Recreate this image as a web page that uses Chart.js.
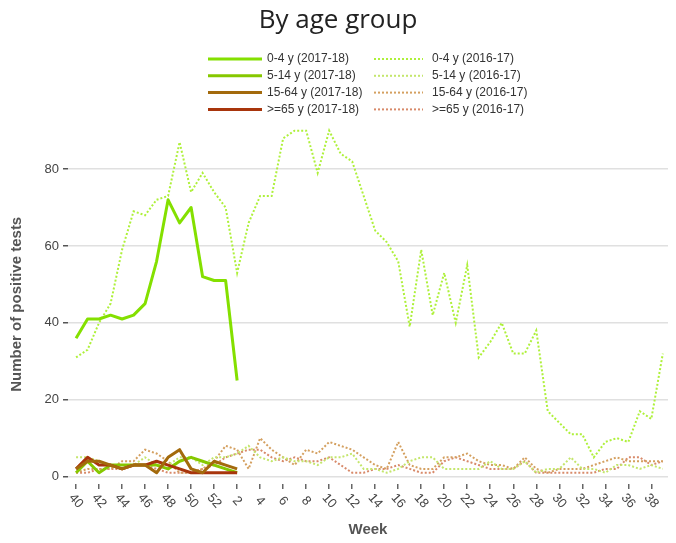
<!DOCTYPE html>
<html>
<head>
<meta charset="utf-8">
<script src="https://cdn.jsdelivr.net/npm/chart.js@4/dist/chart.umd.min.js"></script>
<style>
html,body{margin:0;padding:0;background:#fff;}
#wrap{width:676px;height:543px;}
</style>
</head>
<body>
<div id="wrap"><canvas id="c" width="676" height="543"></canvas></div>
<script>
// ---------- data ----------
const weeks = ['40','41','42','43','44','45','46','47','48','49','50','51','52',
  '1','2','3','4','5','6','7','8','9','10','11','12','13','14','15','16','17','18','19','20',
  '21','22','23','24','25','26','27','28','29','30','31','32','33','34','35','36','37','38','39'];
const yTickValues = [0, 20, 40, 60, 80];

const age0to4_2017 = [36,41,41,42,41,42,45,56,72,66,70,52,51,51,25];
const age5to14_2017 = [1,4,1,3,3,3,3,3,2,4,5,4,3,2,1];
const age15to64_2017 = [2,4,4,3,2,3,3,1,5,7,2,1,4,3,2];
const age65_2017 = [2,5,3,3,2,3,3,4,3,2,1,1,1,1,1];

const age0to4_2016 = [31,33,40,45,59,69,68,72,73,87,74,79,74,70,53,66,73,73,88,90,90,79,90,84,82,73,64,61,56,39,59,42,53,40,55,31,35,40,32,32,38,17,14,11,11,5,9,10,9,17,15,32];
const age5to14_2016 = [5,5,4,3,3,3,5,3,3,5,5,3,5,5,6,8,5,4,5,4,4,3,5,5,6,2,2,1,2,4,5,5,2,2,2,2,4,2,2,4,1,2,2,5,2,2,1,3,3,2,3,2];
const age15to64_2016 = [1,2,2,2,4,4,7,6,4,1,1,2,4,8,7,2,10,7,5,3,7,6,9,8,7,5,3,2,9,3,2,2,5,5,6,4,3,3,2,5,2,1,2,2,2,3,4,5,4,4,4,4];
const age65_2016 = [1,1,2,2,2,3,3,2,1,1,1,2,3,5,6,7,7,5,4,5,4,4,5,3,1,1,2,2,3,2,1,1,4,5,4,3,2,2,2,4,1,1,1,1,1,1,2,2,5,5,3,4];

const seriesLabels = {
  a04s:'0-4 y (2017-18)', a514s:'5-14 y (2017-18)', a1564s:'15-64 y (2017-18)', a65s:'>=65 y (2017-18)',
  a04p:'0-4 y (2016-17)', a514p:'5-14 y (2016-17)', a1564p:'15-64 y (2016-17)', a65p:'>=65 y (2016-17)'
};

// ---------- chart ----------
const FONT = "'Liberation Sans', Arial, sans-serif";
const toXY = arr => arr.map((v, i) => ({x: i, y: v}));

const solid = (label, arr, color) => ({
  label, data: toXY(arr), borderColor: color, backgroundColor: color,
  borderWidth: 3, pointRadius: 0, tension: 0, borderJoinStyle: 'round', fill: false
});
const dotted = (label, arr, color) => ({
  label, data: toXY(arr), borderColor: color, backgroundColor: color,
  borderWidth: 2, borderDash: [2, 2], pointRadius: 0, tension: 0, fill: false
});

const datasets = [
  solid(seriesLabels.a04s, age0to4_2017, '#84e000'),
  solid(seriesLabels.a1564s, age15to64_2017, '#a36a0c'),
  solid(seriesLabels.a65s, age65_2017, '#a8350c'),
  solid(seriesLabels.a514s, age5to14_2017, '#86c800'),
  dotted(seriesLabels.a04p, age0to4_2016, '#aef03a'),
  dotted(seriesLabels.a514p, age5to14_2016, '#c4e66c'),
  dotted(seriesLabels.a1564p, age15to64_2016, '#d4a060'),
  dotted(seriesLabels.a65p, age65_2016, '#d88a6a')
];

const legendColumns = [
  {lineX: 208, lineW: 54, textX: 267, items: [seriesLabels.a04s, seriesLabels.a514s, seriesLabels.a1564s, seriesLabels.a65s]},
  {lineX: 374, lineW: 49, textX: 432, items: [seriesLabels.a04p, seriesLabels.a514p, seriesLabels.a1564p, seriesLabels.a65p]}
];

const customLegend = {
  id: 'customLegend',
  afterDraw(chart) {
    const ctx = chart.ctx;
    ctx.save();
    ctx.font = '12px ' + FONT;
    ctx.textBaseline = 'middle';
    ctx.textAlign = 'left';
    legendColumns.forEach(col => {
      col.items.forEach((lab, r) => {
        const ds = chart.data.datasets.find(d => d.label === lab);
        const y = 59 + r * 16.8;
        ctx.beginPath();
        ctx.strokeStyle = ds.borderColor;
        ctx.lineWidth = ds.borderWidth;
        ctx.setLineDash(ds.borderDash || []);
        ctx.moveTo(col.lineX, y);
        ctx.lineTo(col.lineX + col.lineW, y);
        ctx.stroke();
        ctx.setLineDash([]);
        ctx.fillStyle = '#333';
        ctx.fillText(lab, col.textX, y);
      });
    });
    ctx.restore();
  }
};

const xLabels = {
  id: 'xLabels',
  afterDraw(chart) {
    const xs = chart.scales.x;
    const ctx = chart.ctx;
    ctx.save();
    ctx.font = '13px ' + FONT;
    ctx.fillStyle = '#444';
    ctx.textAlign = 'center';
    ctx.textBaseline = 'middle';
    xs.ticks.forEach(t => {
      const px = xs.getPixelForValue(t.value);
      ctx.save();
      ctx.translate(px, 501);
      ctx.rotate(Math.PI * 0.27);
      ctx.fillText(weeks[t.value], 0, 0);
      ctx.restore();
    });
    ctx.restore();
  }
};

new Chart(document.getElementById('c'), {
  type: 'line',
  data: {datasets},
  plugins: [customLegend, xLabels],
  options: {
    responsive: false,
    animation: false,
    events: [],
    layout: {padding: {left: 8, right: 8, top: 0, bottom: 0}},
    plugins: {
      legend: {display: false},
      tooltip: {enabled: false},
      title: {
        display: true, text: 'By age group', color: '#222',
        font: {family: "'Open Sans', sans-serif", size: 26, weight: 'normal'},
        padding: {top: 5, bottom: 88.4}
      }
    },
    scales: {
      x: {
        type: 'linear', min: -0.7, max: 51.45,
        afterBuildTicks: s => { s.ticks = weeks.map((w, i) => i).filter(i => i % 2 === 0).map(v => ({value: v})); },
        grid: {drawOnChartArea: false, drawTicks: true, tickLength: 5, tickColor: '#666', lineWidth: 1.5},
        border: {display: false},
        ticks: {display: false},
        title: {display: true, text: 'Week', color: '#555', font: {family: FONT, size: 15, weight: 'bold'}, padding: {top: 32, bottom: 4}}
      },
      y: {
        min: -1.93, max: 91.57,
        afterBuildTicks: s => { s.ticks = yTickValues.map(v => ({value: v})); },
        afterFit: s => { s.width = 60; },
        grid: {color: '#e0e0e0', lineWidth: 1.5, tickColor: '#555', tickLength: 5, drawTicks: true},
        border: {display: false},
        ticks: {color: '#444', font: {family: FONT, size: 13}, padding: 4},
        title: {display: true, text: 'Number of positive tests', color: '#555', font: {family: FONT, size: 15, weight: 'bold'}, padding: {top: 0, bottom: 0}}
      }
    }
  }
});
</script>
</body>
</html>
